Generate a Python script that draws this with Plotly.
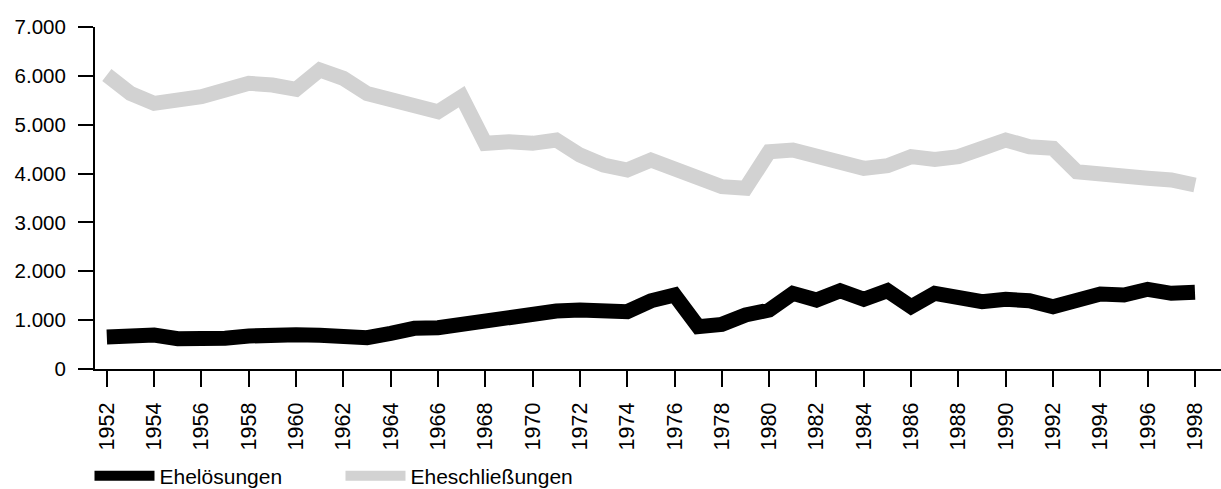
import plotly.graph_objects as go

years = list(range(1952, 1999))

ehelosungen = [655, 669, 696, 621, 594, 628, 675, 716, 702, 689, 662, 640,
               730, 832, 846, 921, 935, 1003, 1071, 1187, 1207, 1221, 1173, 1395,
               1515, 866, 914, 1105, 1207, 1549, 1412, 1603, 1426, 1603, 1276, 1549,
               1467, 1378, 1426, 1399, 1276, 1399, 1535, 1515, 1631, 1549, 1569]

eheschliessungen = [6017, 5642, 5437, 5471, 5573, 5710, 5847, 5812, 5724, 6119, 5949, 5640,
                    5505, 5403, 5266, 5573, 4619, 4652, 4619, 4687, 4380, 4175, 4073, 4278,
                    4073, 3868, 3731, 3698, 4448, 4482, 4346, 4243, 4107, 4160, 4346, 4290,
                    4346, 4516, 4687, 4550, 4516, 4038, 3970, 3936, 3903, 3868, 3766]

names = ["Ehelösungen", "Eheschließungen"]

fig = go.Figure()
fig.add_trace(go.Scatter(x=years, y=ehelosungen, mode="lines", name=names[0],
                         line=dict(color="black", width=15)))
fig.add_trace(go.Scatter(x=years, y=eheschliessungen, mode="lines", name=names[1],
                         line=dict(color="#d2d2d2", width=15)))

family = "Liberation Sans, Arial, sans-serif"
yfont = dict(family=family, size=20.5, color="black")
xfont = dict(family=family, size=21.5, color="black")

fig.update_layout(
    width=1221, height=489,
    margin=dict(l=95, r=0, t=27, b=120),
    paper_bgcolor="white", plot_bgcolor="white",
    separators=",.",
    font=dict(family=family, size=20, color="black"),
    showlegend=True,
    legend=dict(orientation="h", xref="container", yref="container",
                x=0.0733, xanchor="left", y=0.0266, yanchor="middle",
                font=dict(family=family, size=21, color="black"),
                itemwidth=60, entrywidth=176, entrywidthmode="pixels",
                bgcolor="rgba(0,0,0,0)", traceorder="normal"),
    xaxis=dict(range=[1951.5, 1999.1], tick0=1952, dtick=2, tickangle=-90,
               showgrid=False, zeroline=False, showline=True, linecolor="black", linewidth=2,
               ticks="outside", ticklen=16, tickwidth=2, tickcolor="black",
               ticklabelstandoff=7, tickfont=xfont, automargin=False),
    yaxis=dict(range=[0, 7000], dtick=1000, tickformat=",d",
               showgrid=False, zeroline=False, showline=True, linecolor="black", linewidth=2,
               ticks="outside", ticklen=15, tickwidth=2, tickcolor="black",
               ticklabelstandoff=8, tickfont=yfont, automargin=False),
)

# extend the x axis line slightly to the left of the y axis, as in the original
fig.add_shape(type="line", xref="paper", yref="paper", x0=-0.0133, x1=0, y0=0, y1=0,
              line=dict(color="black", width=2))

fig.write_html("out.html", config={"displayModeBar": False},
               post_script="document.body.style.margin='0';document.body.style.overflow='hidden';")
